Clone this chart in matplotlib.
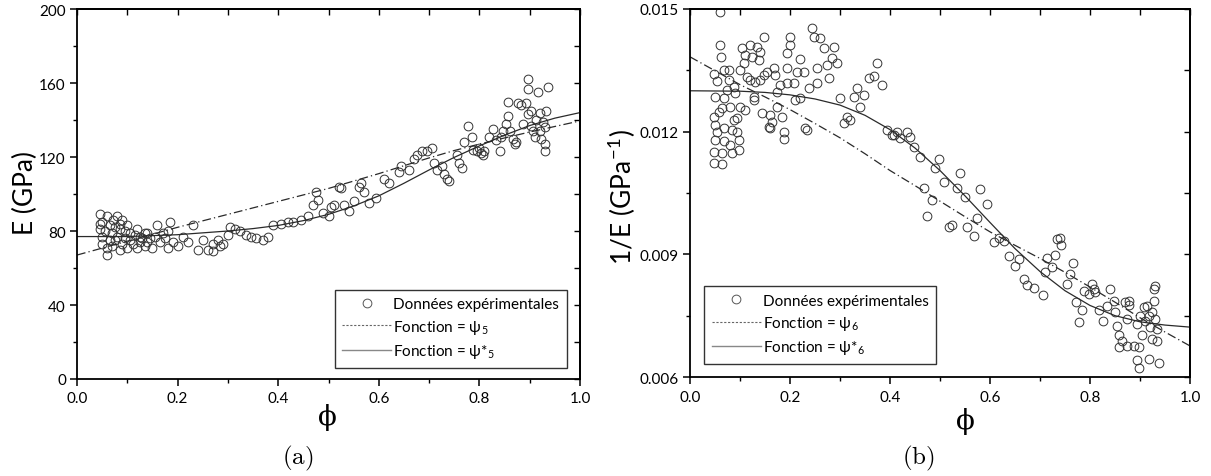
import numpy as np
import matplotlib
matplotlib.use('Agg')
import matplotlib.pyplot as plt
from matplotlib.lines import Line2D
from matplotlib.ticker import MultipleLocator, NullFormatter, FormatStrFormatter

plt.rcParams['font.family'] = ['Lato', 'DejaVu Sans']
plt.rcParams['mathtext.fontset'] = 'cm'

# (a) experimental points: porosity phi, Young's modulus E (GPa)
phi_a = [0.046, 0.060, 0.050, 0.046, 0.050, 0.060, 0.060, 0.080, 0.090, 0.086,
         0.096, 0.076, 0.106, 0.112, 0.100, 0.045, 0.055, 0.065, 0.070, 0.072,
         0.075, 0.080, 0.085, 0.090, 0.095, 0.100, 0.105, 0.115, 0.120, 0.125,
         0.130, 0.135, 0.140, 0.145, 0.050, 0.065, 0.070, 0.085,
         0.126, 0.120, 0.140, 0.136, 0.150, 0.160, 0.155, 0.170, 0.185, 0.180,
         0.190, 0.180, 0.165, 0.175,
         0.210, 0.200, 0.220, 0.230, 0.240, 0.250, 0.260, 0.270, 0.280, 0.270,
         0.285, 0.290,
         0.300, 0.305, 0.315, 0.325, 0.335, 0.345, 0.355, 0.370, 0.380,
         0.390, 0.405, 0.420, 0.430, 0.445, 0.460, 0.470, 0.475, 0.480, 0.490, 0.500,
         0.505, 0.510, 0.520, 0.525, 0.530, 0.540, 0.550, 0.560, 0.565, 0.570,
         0.580, 0.595, 0.610, 0.620, 0.640, 0.645, 0.660, 0.670, 0.675, 0.685,
         0.695, 0.705, 0.710, 0.715, 0.725, 0.730, 0.735, 0.740, 0.755, 0.760, 0.765,
         0.770, 0.777, 0.785, 0.787, 0.795, 0.800, 0.803, 0.807, 0.810,
         0.820, 0.827, 0.833, 0.840, 0.843, 0.847, 0.853, 0.857, 0.857, 0.860,
         0.867, 0.870, 0.873, 0.877, 0.883, 0.887, 0.893, 0.897, 0.897, 0.897,
         0.903, 0.903, 0.907, 0.910, 0.913, 0.917, 0.920, 0.920, 0.923, 0.927,
         0.930, 0.930, 0.930, 0.933, 0.937]
E_a = [89, 88, 85, 81, 77, 71, 67, 88, 86, 81,
       76, 75, 79, 73, 71, 84, 80, 83, 79, 86,
       82, 77, 84, 73, 80, 83, 75, 78, 81, 74,
       76, 79, 74, 76, 73, 75, 72, 70,
       77, 71, 79, 72, 71, 83, 77, 79, 85, 80,
       74, 71, 74, 76,
       77, 72, 74, 83, 70, 75, 70, 73, 75, 69,
       72, 73,
       78, 82, 81, 80, 78, 77, 76, 75, 77,
       83, 84, 85, 85, 86, 88, 94, 101, 97, 90, 88,
       93, 94, 104, 103, 94, 91, 96, 104, 106, 101,
       95, 98, 108, 106, 112, 115, 113, 119, 121, 123,
       123, 125, 117, 113, 115, 111, 108, 107, 121, 117, 114,
       128, 137, 131, 124, 123, 125, 122, 121, 123,
       131, 135, 129, 123, 131, 134, 138, 142, 150, 134,
       130, 127, 128, 149, 148, 138, 149, 143, 162, 157,
       145, 137, 134, 131, 140, 155, 144, 134, 130, 139,
       136, 127, 123, 145, 158]

# (a) fitted curves
phi_fit_a = [0.0, 0.1, 0.2, 0.3, 0.35, 0.4, 0.45, 0.5, 0.55, 0.6, 0.65, 0.7,
             0.75, 0.8, 0.85, 0.9, 0.95, 1.0]
psi5 = [67, 74.5, 82, 89, 92.5, 96, 99.5, 103, 107, 111, 115.3, 119.5,
        123.5, 127, 130.3, 133.5, 136.5, 139.5]
psi5_star = [77, 77, 78, 80, 81.3, 83, 85.6, 89, 93.5, 99, 105.8, 113,
             119.8, 126, 131.8, 137, 141, 144]

# (b) experimental points: phi, 1/E (GPa^-1)
phi_b = [0.060, 0.060, 0.062, 0.047, 0.053, 0.067, 0.077, 0.077, 0.073, 0.087,
         0.050, 0.067, 0.090, 0.080, 0.063, 0.057, 0.047, 0.050, 0.067, 0.053,
         0.087, 0.093, 0.083, 0.093, 0.050, 0.067, 0.080, 0.097, 0.047, 0.063,
         0.083, 0.097, 0.047, 0.063, 0.100, 0.110, 0.103, 0.120, 0.133, 0.140,
         0.110, 0.123, 0.137, 0.107, 0.100, 0.113, 0.120, 0.130, 0.140, 0.147,
         0.153, 0.167, 0.170, 0.147, 0.127, 0.127, 0.143, 0.160, 0.163, 0.157,
         0.160, 0.173, 0.183, 0.187, 0.187, 0.173, 0.180, 0.193, 0.207, 0.193,
         0.213, 0.227, 0.220, 0.193, 0.200, 0.200, 0.210, 0.220, 0.230, 0.233,
         0.237, 0.253, 0.253, 0.243, 0.247, 0.260, 0.267, 0.273, 0.277, 0.283,
         0.287, 0.293, 0.300, 0.327, 0.333, 0.347, 0.340, 0.307, 0.313, 0.320,
         0.357, 0.367, 0.373, 0.383, 0.393, 0.403, 0.413, 0.420, 0.433,
         0.407, 0.440, 0.447, 0.460, 0.497, 0.490, 0.507, 0.467, 0.483, 0.473,
         0.540, 0.533, 0.550, 0.580, 0.593, 0.573, 0.517, 0.523, 0.553, 0.567,
         0.607, 0.617, 0.627, 0.637, 0.650, 0.658, 0.667, 0.673, 0.688, 0.705,
         0.710, 0.713, 0.723, 0.730, 0.733, 0.740, 0.741, 0.753, 0.760, 0.765,
         0.772, 0.783, 0.777, 0.787, 0.797, 0.803, 0.807, 0.810, 0.818, 0.825,
         0.833, 0.840, 0.847, 0.850, 0.853, 0.858, 0.857, 0.863, 0.870, 0.873,
         0.873, 0.877, 0.878, 0.887, 0.897, 0.893, 0.900, 0.903, 0.907, 0.913,
         0.910, 0.917, 0.920, 0.923, 0.923, 0.927, 0.927, 0.930, 0.930, 0.933,
         0.933, 0.893, 0.897, 0.917, 0.937]
invE_b = [0.01493, 0.01412, 0.01383, 0.01341, 0.01324, 0.01351, 0.01351, 0.01327, 0.01302, 0.01310,
          0.01285, 0.01283, 0.01295, 0.01261, 0.01259, 0.01249, 0.01237, 0.01217, 0.01210, 0.01198,
          0.01229, 0.01234, 0.01205, 0.01198, 0.01180, 0.01176, 0.01168, 0.01180, 0.01151, 0.01149,
          0.01149, 0.01154, 0.01124, 0.01122, 0.01261, 0.01254, 0.01405, 0.01412, 0.01407, 0.01395,
          0.01388, 0.01383, 0.01376, 0.01368, 0.01351, 0.01334, 0.01327, 0.01322, 0.01327, 0.01339,
          0.01346, 0.01356, 0.01339, 0.01432, 0.01285, 0.01278, 0.01246, 0.01241, 0.01224, 0.01212,
          0.01210, 0.01261, 0.01237, 0.01200, 0.01183, 0.01298, 0.01315, 0.01319, 0.01319, 0.01356,
          0.01346, 0.01346, 0.01378, 0.01393, 0.01412, 0.01432, 0.01278, 0.01283, 0.01210, 0.01205,
          0.01307, 0.01356, 0.01319, 0.01454, 0.01432, 0.01429, 0.01405, 0.01363, 0.01332, 0.01380,
          0.01407, 0.01368, 0.01283, 0.01285, 0.01307, 0.01290, 0.01261, 0.01222, 0.01237, 0.01229,
          0.01332, 0.01337, 0.01368, 0.01315, 0.01205, 0.01193, 0.01198, 0.01185, 0.01198,
          0.01193, 0.01188, 0.01163, 0.01139, 0.01134, 0.01112, 0.01076, 0.01063, 0.01032, 0.00993,
          0.01100, 0.01063, 0.01041, 0.01059, 0.01022, 0.00988, 0.00968, 0.00971, 0.00968, 0.00944,
          0.00929, 0.00941, 0.00932, 0.00895, 0.00871, 0.00888, 0.00839, 0.00824, 0.00817, 0.00800,
          0.00856, 0.00890, 0.00868, 0.00898, 0.00937, 0.00939, 0.00922, 0.00827, 0.00851, 0.00878,
          0.00783, 0.00763, 0.00734, 0.00810, 0.00802, 0.00827, 0.00815, 0.00807, 0.00763, 0.00737,
          0.00773, 0.00815, 0.00785, 0.00759, 0.00724, 0.00702, 0.00673, 0.00688, 0.00783, 0.00741,
          0.00676, 0.00785, 0.00776, 0.00676, 0.00673, 0.00729, 0.00749, 0.00702, 0.00771, 0.00773,
          0.00737, 0.00749, 0.00722, 0.00759, 0.00693, 0.00815, 0.00785, 0.00822, 0.00741, 0.00717,
          0.00688, 0.00641, 0.00622, 0.00644, 0.00634]

# (b) fitted curves
phi_fit_b = [0.0, 0.1, 0.15, 0.2, 0.25, 0.3, 0.35, 0.4, 0.45, 0.5, 0.55, 0.6, 0.65,
             0.7, 0.75, 0.8, 0.85, 0.9, 0.95, 1.0]
psi6 = [0.01383, 0.01315, 0.01285, 0.01254, 0.01220, 0.01185, 0.01146, 0.01105, 0.01068,
        0.01030, 0.00992, 0.00955, 0.00922, 0.00890, 0.00856, 0.00820, 0.00783, 0.00745,
        0.00710, 0.00676]
psi6_star = [0.01300, 0.01299, 0.01296, 0.01290, 0.01280, 0.01265, 0.01240, 0.01205,
             0.01160, 0.01105, 0.01043, 0.00978, 0.00914, 0.00858, 0.00811, 0.00775,
             0.00750, 0.00735, 0.00727, 0.00722]

W, H = 1211, 477
fig = plt.figure(figsize=(W / 100, H / 100), dpi=100)

def px_axes(x0, x1, y0, y1):
    return fig.add_axes([x0 / W, 1 - y1 / H, (x1 - x0) / W, (y1 - y0) / H])

ax_a = px_axes(77, 580, 10, 380)
ax_b = px_axes(690, 1190, 10, 378)

dashdot = (0, (7, 2.5, 1, 2.5))
line_col = '#2a2a2a'
mark_kw = dict(ls='none', marker='o', ms=6.3, mfc='none', mec='#333333', mew=0.7)

def style(ax, ymaj, ymin, ylim, yfmt):
    ax.set_xlim(0, 1)
    ax.set_ylim(*ylim)
    ax.xaxis.set_major_locator(MultipleLocator(0.2))
    ax.xaxis.set_minor_locator(MultipleLocator(0.1))
    ax.yaxis.set_major_locator(MultipleLocator(ymaj))
    ax.yaxis.set_minor_locator(MultipleLocator(ymin))
    ax.xaxis.set_major_formatter(FormatStrFormatter('%.1f'))
    ax.yaxis.set_major_formatter(FormatStrFormatter(yfmt))
    ax.tick_params(which='major', direction='out', length=5, width=1.1, labelsize=11, pad=3)
    ax.tick_params(which='minor', direction='out', length=3, width=1.0)
    ax.tick_params(axis='x', pad=4)
    for s in ax.spines.values():
        s.set_linewidth(1.3)
    top = ax.secondary_xaxis('top')
    top.set_xticks(np.arange(0, 1.01, 0.1))
    top.xaxis.set_major_formatter(NullFormatter())
    top.tick_params(direction='in', length=4, width=1.0)
    right = ax.secondary_yaxis('right')
    right.set_yticks(np.arange(ylim[0], ylim[1] + ymin / 2, ymin))
    right.yaxis.set_major_formatter(NullFormatter())
    right.tick_params(direction='in', length=4, width=1.0)
    for sec in (top, right):
        for s in sec.spines.values():
            s.set_linewidth(1.3)

# panel (a)
ax_a.plot(phi_a, E_a, **mark_kw)
ax_a.plot(phi_fit_a, psi5, color=line_col, lw=0.9, ls=dashdot)
ax_a.plot(phi_fit_a, psi5_star, color=line_col, lw=0.9, ls='-')
style(ax_a, 40, 20, (0, 200), '%d')

# panel (b)
ax_b.plot(phi_b, invE_b, **mark_kw)
ax_b.plot(phi_fit_b, psi6, color=line_col, lw=0.9, ls=dashdot)
ax_b.plot(phi_fit_b, psi6_star, color=line_col, lw=0.9, ls='-')
style(ax_b, 0.003, 0.0015, (0.006, 0.015), '%.3f')

def legend(ax, sub, loc, anchor):
    handles = [Line2D([], [], ls='none', marker='o', ms=6.3, mfc='none', mec='#555555', mew=0.7),
               Line2D([], [], color='#666666', lw=0.8, ls=(0, (2, 1.5))),
               Line2D([], [], color='#888888', lw=1.0, ls='-')]
    labels = ['Données expérimentales',
              'Fonction = ψ$_\\mathregular{%s}$' % sub,
              'Fonction = ψ*$_\\mathregular{%s}$' % sub]
    leg = ax.legend(handles, labels, loc=loc, bbox_to_anchor=anchor, fontsize=11,
                    frameon=True, fancybox=False, shadow=False, handlelength=3.2,
                    handletextpad=0.15, borderpad=0.5, labelspacing=0.42,
                    borderaxespad=0)
    leg.get_frame().set_edgecolor('black')
    leg.get_frame().set_linewidth(1.0)

legend(ax_a, '5', 'lower right', (0.974, 0.03))
legend(ax_b, '6', 'lower left', (0.028, 0.035))

# axis labels and captions
fig.text(25 / W, 1 - 193 / H, 'E (GPa)', rotation=90, ha='center', va='center', fontsize=19)
fig.text(622 / W, 1 - 197 / H, '1/E (GPa$^{\\mathregular{-1}}$)', rotation=90,
         ha='center', va='center', fontsize=19)
fig.text(327 / W, 1 - 418 / H, 'ϕ', ha='center', va='center', fontsize=20, family='DejaVu Serif')
fig.text(965 / W, 1 - 422 / H, 'ϕ', ha='center', va='center', fontsize=20, family='DejaVu Serif')
fig.text(298 / W, 1 - 458 / H, '$\\mathrm{(a)}$', ha='center', va='center', fontsize=18)
fig.text(918 / W, 1 - 458 / H, '$\\mathrm{(b)}$', ha='center', va='center', fontsize=18)

fig.savefig('out.png', dpi=100)
